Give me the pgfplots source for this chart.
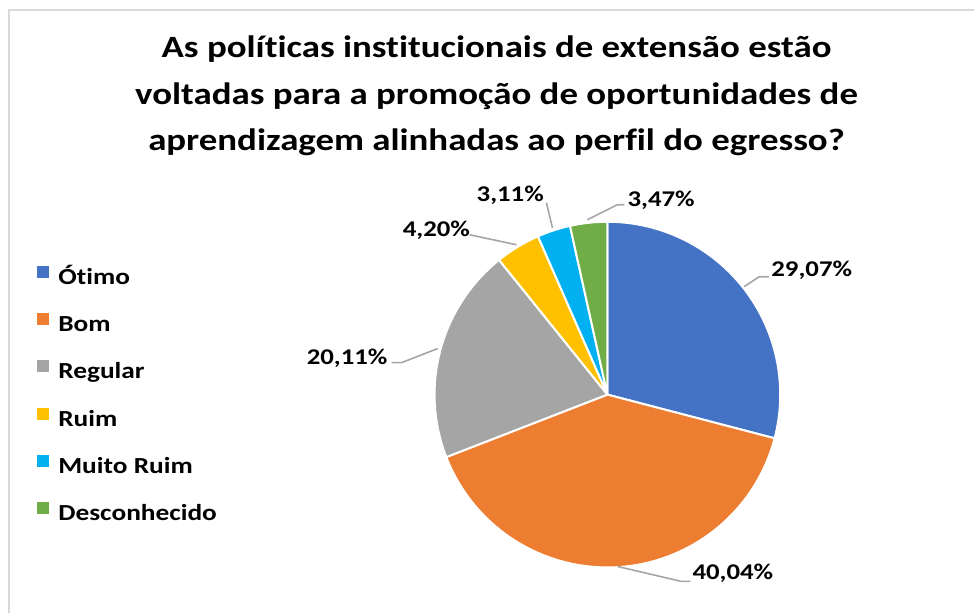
\documentclass[border=0pt]{standalone}
\usepackage{pgfplots}
\pgfplotsset{compat=1.18}
\usepackage{pgfplotstable}
\usepackage{fontspec}
\setmainfont{Carlito}[FakeStretch=1.19, Ligatures=NoCommon]

\definecolor{pie0}{HTML}{4472C4}
\definecolor{pie1}{HTML}{ED7D31}
\definecolor{pie2}{HTML}{A5A5A5}
\definecolor{pie3}{HTML}{FFC000}
\definecolor{pie4}{HTML}{00B0F0}
\definecolor{pie5}{HTML}{70AD47}
\definecolor{leader}{HTML}{A6A6A6}
\definecolor{frame}{HTML}{D9D9D9}

\pgfplotstableread{
idx value
0 29.07
1 40.04
2 20.11
3 4.20
4 3.11
5 3.47
}\piedata

\pgfplotsset{pieleg/.style={legend image code/.code={\fill[draw=none] (0pt,1pt) rectangle (12pt,13pt); \path (21pt,0pt);}}}

\begin{document}
\begin{tikzpicture}
\xdef\cum{90}
\foreach \i in {0,...,5}{%
  \pgfplotstablegetelem{\i}{value}\of\piedata
  \pgfmathsetmacro\e{\cum-3.6*\pgfplotsretval}%
  \expandafter\xdef\csname pieS\i\endcsname{\cum}%
  \expandafter\xdef\csname pieE\i\endcsname{\e}%
  \xdef\cum{\e}%
}
\begin{axis}[
  x=1pt, y=1pt, xmin=0, xmax=975, ymin=0, ymax=614,
  hide axis, clip=false,
  legend cell align=left,
  legend style={at={(axis cs:37,348)}, anchor=north west, draw=none, fill=none,
    inner sep=0pt, row sep=23.8pt,
    font=\fontsize{23}{27}\selectfont\bfseries,
    nodes={inner sep=0pt, text height=16pt, text depth=5pt}},
]
\path (axis cs:0,0) rectangle (axis cs:975,614);
\draw[frame, line width=2pt] (axis cs:9,0) -- (axis cs:9,604) -- (axis cs:975,604);

\pgfplotsinvokeforeach{0,...,5}{
  \fill[pie#1, draw=white, line width=2pt, line join=round]
    (axis cs:608,219) -- ++(\csname pieS#1\endcsname:173pt)
    arc[start angle=\csname pieS#1\endcsname, end angle=\csname pieE#1\endcsname, radius=173pt] -- cycle;
}

\addlegendimage{pieleg, fill=pie0}\addlegendentry{Ótimo}
\addlegendimage{pieleg, fill=pie1}\addlegendentry{Bom}
\addlegendimage{pieleg, fill=pie2}\addlegendentry{Regular}
\addlegendimage{pieleg, fill=pie3}\addlegendentry{Ruim}
\addlegendimage{pieleg, fill=pie4}\addlegendentry{Muito Ruim}
\addlegendimage{pieleg, fill=pie5}\addlegendentry{Desconhecido}

% leader lines
\begin{scope}[leader, line width=1.6pt]
\draw (axis cs:745,327) -- (axis cs:760,337) -- (axis cs:770,337);
\draw (axis cs:392,251) -- (axis cs:402,251) -- (axis cs:438,265);
\draw (axis cs:618,47) -- (axis cs:682,32) -- (axis cs:691,32);
\draw (axis cs:470,379) -- (axis cs:517,369);
\draw (axis cs:547,411) -- (axis cs:553,386);
\draw (axis cs:588,394) -- (axis cs:618,409) -- (axis cs:625,409);
\end{scope}

\begin{scope}[every node/.style={inner sep=0pt, font=\fontsize{22.5}{26}\selectfont\bfseries}]
\node[anchor=base west] at (axis cs:772,337) {29,07\%};
\node[anchor=base east] at (axis cs:388,249) {20,11\%};
\node[anchor=base west] at (axis cs:693,34) {40,04\%};
\node[anchor=base west] at (axis cs:403,377) {4,20\%};
\node[anchor=base west] at (axis cs:477,412) {3,11\%};
\node[anchor=base west] at (axis cs:628,407) {3,47\%};
\end{scope}

\node[align=center, inner sep=0pt, font=\fontsize{31}{46.5}\selectfont\bfseries] at (axis cs:497,518)
  {As políticas institucionais de extensão estão\\voltadas para a promoção de oportunidades de\\aprendizagem alinhadas ao perfil do egresso?};
\end{axis}
\end{tikzpicture}
\end{document}
